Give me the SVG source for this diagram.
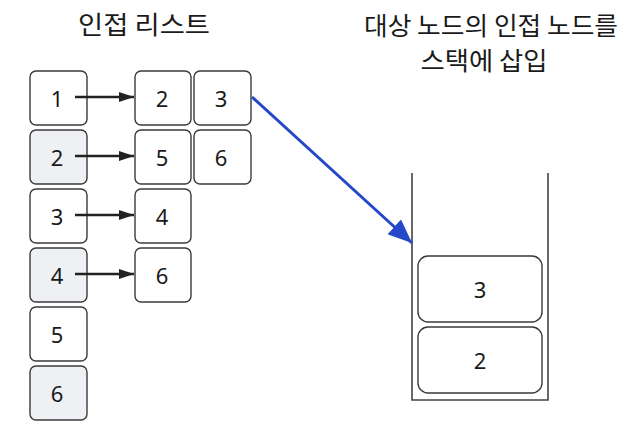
<svg xmlns="http://www.w3.org/2000/svg" width="642" height="436" viewBox="0 0 642 436">
<defs>
<style>
.box{fill:#ffffff;stroke:#3a3a3a;stroke-width:1.4}
.g{fill:#eef0f4}
.num{font-family:"Noto Sans","Liberation Sans",sans-serif;font-size:22px;fill:#1a1a1a;text-anchor:middle;dominant-baseline:central}
.title{font-family:"Noto Sans CJK KR","Noto Sans",sans-serif;font-size:25px;font-weight:400;fill:#1a1a1a;text-anchor:middle}
.arr{stroke:#222;stroke-width:2.4;fill:none}
</style>
<marker id="ah" markerWidth="15" markerHeight="10" refX="15" refY="5" orient="auto" markerUnits="userSpaceOnUse"><path d="M0,0 L15,5 L0,10 Z" fill="#222"/></marker>
<marker id="bh" markerWidth="24" markerHeight="20" refX="24" refY="10" orient="auto" markerUnits="userSpaceOnUse"><path d="M0,0 L24,10 L0,20 Z" fill="#2448c8"/></marker>
</defs>
<rect width="642" height="436" fill="#ffffff"/>
<text class="title" x="144" y="34" textLength="132" lengthAdjust="spacingAndGlyphs">인접 리스트</text>
<text class="title" x="491" y="35" textLength="254" lengthAdjust="spacingAndGlyphs">대상 노드의 인접 노드를</text>
<text class="title" x="484" y="70" textLength="127" lengthAdjust="spacingAndGlyphs">스택에 삽입</text>
<g id="n1"><rect class="box" x="30" y="71" width="57" height="54" rx="6"/><text class="num" x="57" y="98">1</text></g>
<g id="n2"><rect class="box g" x="30" y="130" width="57" height="54" rx="6"/><text class="num" x="57" y="157">2</text></g>
<g id="n3"><rect class="box" x="30" y="189" width="57" height="54" rx="6"/><text class="num" x="57" y="216">3</text></g>
<g id="n4"><rect class="box g" x="30" y="248" width="57" height="54" rx="6"/><text class="num" x="57" y="275">4</text></g>
<g id="n5"><rect class="box" x="30" y="307" width="57" height="54" rx="6"/><text class="num" x="57" y="334">5</text></g>
<g id="n6"><rect class="box g" x="30" y="366" width="57" height="54" rx="6"/><text class="num" x="57" y="393">6</text></g>
<g id="a12"><rect class="box" x="135" y="71" width="56" height="54" rx="6"/><text class="num" x="162" y="98">2</text></g>
<g id="a13"><rect class="box" x="194" y="71" width="57" height="54" rx="6"/><text class="num" x="221" y="98">3</text></g>
<g id="a25"><rect class="box" x="135" y="130" width="56" height="54" rx="6"/><text class="num" x="162" y="157">5</text></g>
<g id="a26"><rect class="box" x="194" y="130" width="57" height="54" rx="6"/><text class="num" x="221" y="157">6</text></g>
<g id="a34"><rect class="box" x="135" y="189" width="56" height="54" rx="6"/><text class="num" x="162" y="216">4</text></g>
<g id="a46"><rect class="box" x="135" y="248" width="56" height="54" rx="6"/><text class="num" x="162" y="275">6</text></g>
<g id="stack">
<path d="M412,173 L412,400 L548,400 L548,173" fill="none" stroke="#444" stroke-width="1.6"/>
<g id="s3"><rect class="box" x="418" y="256" width="124" height="66" rx="10" stroke-width="1.8"/><text class="num" x="480" y="289">3</text></g>
<g id="s2"><rect class="box" x="418" y="327" width="124" height="66" rx="10" stroke-width="1.8"/><text class="num" x="480" y="360">2</text></g>
</g>
<g id="connectors">
<line class="arr" x1="75" y1="97" x2="134" y2="97" marker-end="url(#ah)"/>
<line class="arr" x1="75" y1="156" x2="134" y2="156" marker-end="url(#ah)"/>
<line class="arr" x1="75" y1="215" x2="134" y2="215" marker-end="url(#ah)"/>
<line class="arr" x1="75" y1="274" x2="134" y2="274" marker-end="url(#ah)"/>
<line x1="252" y1="97" x2="412" y2="243" stroke="#2448c8" stroke-width="3" marker-end="url(#bh)"/>
</g>
</svg>
